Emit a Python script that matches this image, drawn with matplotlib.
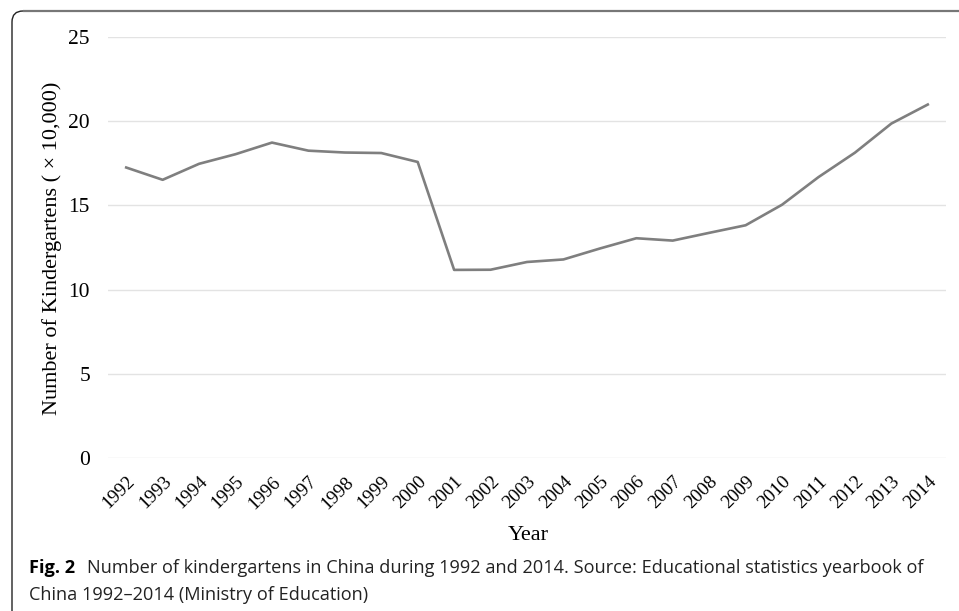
import matplotlib
matplotlib.use("Agg")
import matplotlib.pyplot as plt
from matplotlib.path import Path
import matplotlib.patches as mpatches

years = [str(y) for y in range(1992, 2015)]
# number of kindergartens, in units of 10,000
kindergartens = [17.25, 16.52, 17.47, 18.04, 18.73, 18.25, 18.14, 18.11, 17.58,
                 11.17, 11.18, 11.64, 11.79, 12.44, 13.05, 12.91, 13.37, 13.82,
                 15.04, 16.68, 18.13, 19.86, 20.99]
y_ticks = [0, 5, 10, 15, 20, 25]

W, H = 959, 611
fig = plt.figure(figsize=(W / 100, H / 100), dpi=100)
ax = fig.add_axes([108 / W, 1 - 458 / H, (946 - 108) / W, (458 - 37) / H])

serif = "Liberation Serif"

ax.plot(range(len(years)), kindergartens, color="#7f7f7f", lw=1.9,
        solid_joinstyle="round", zorder=3)
ax.set_xlim(-0.5, len(years) - 0.5)
ax.set_ylim(0, 25)
ax.set_yticks(y_ticks)
ax.set_yticklabels([str(v) for v in y_ticks], fontfamily=serif, fontsize=15.5)
ax.set_xticks(range(len(years)))
ax.set_xticklabels(years, rotation=45, ha="right", rotation_mode="anchor",
                   fontfamily=serif, fontsize=13.8)
ax.tick_params(axis="both", length=0)
ax.tick_params(axis="y", pad=13)
ax.tick_params(axis="x", pad=11)
ax.grid(axis="y", color="#e3e3e3", lw=1)
ax.set_axisbelow(True)
for s in ax.spines.values():
    s.set_visible(False)

fig.text(52 / W, 1 - 248 / H, "Number of Kindergartens ( \u00d7 10,000)",
         fontfamily=serif, fontsize=16, rotation=90, ha="center", va="center")
fig.text(528 / W, 1 - 535 / H, "Year", fontfamily=serif, fontsize=16,
         ha="center", va="center")

# frame with rounded corner
tr = fig.transFigure
def fx(px):
    return px / W
def fy(py):
    return 1 - py / H

left = Path([(fx(12), fy(H + 5)), (fx(12), fy(22)), (fx(12), fy(11)), (fx(23), fy(11))],
            [Path.MOVETO, Path.LINETO, Path.CURVE3, Path.CURVE3])
fig.patches.append(mpatches.PathPatch(left, transform=tr, fill=False,
                                      edgecolor="#222222", lw=1.0))
top = Path([(fx(23), fy(11)), (fx(W + 5), fy(11))], [Path.MOVETO, Path.LINETO])
fig.patches.append(mpatches.PathPatch(top, transform=tr, fill=False,
                                      edgecolor="#777777", lw=1.6))

# caption
cap = "Open Sans"
t1 = fig.text(fx(29), fy(568), "Fig. 2", fontfamily=cap, fontweight="bold",
              fontsize=13.1, va="center", ha="left")
fig.canvas.draw()
bb = t1.get_window_extent()
fig.text((bb.x1 + 12) / W, fy(568),
         "Number of kindergartens in China during 1992 and 2014. Source: Educational statistics yearbook of",
         fontfamily=cap, fontsize=13.1, va="center", ha="left", color="#222222")
fig.text(fx(29), fy(595), "China 1992\u20132014 (Ministry of Education)",
         fontfamily=cap, fontsize=13.1, va="center", ha="left", color="#222222")

fig.savefig("out.png", dpi=100)
